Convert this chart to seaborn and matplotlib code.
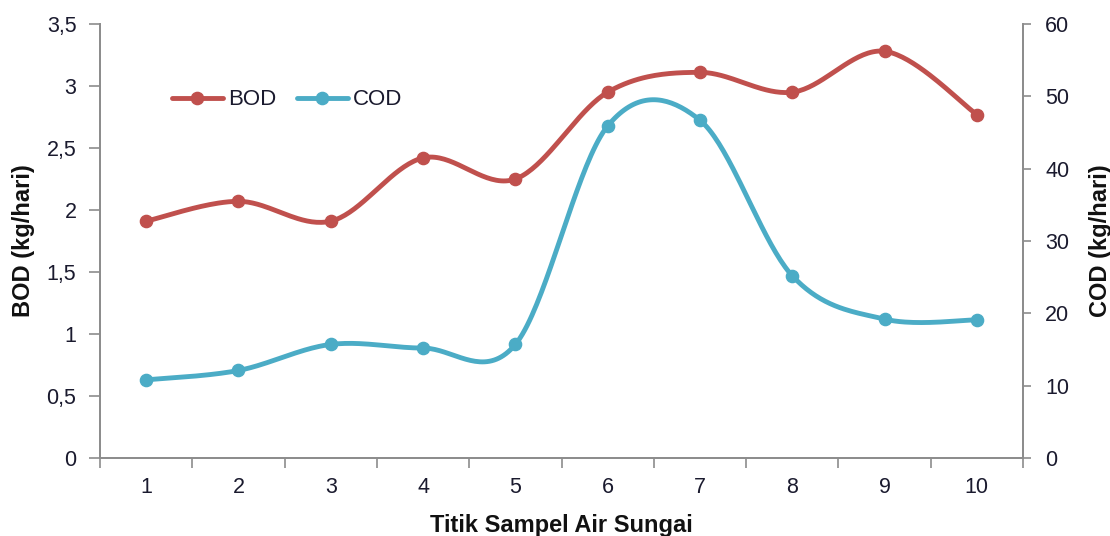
import numpy as np
import pandas as pd
import matplotlib
matplotlib.use("Agg")
import matplotlib.pyplot as plt
import seaborn as sns
from matplotlib.lines import Line2D
from matplotlib.ticker import FixedLocator

# ---- data ----
sampling_points = [1, 2, 3, 4, 5, 6, 7, 8, 9, 10]
bod_values = [1.91, 2.07, 1.91, 2.42, 2.25, 2.95, 3.11, 2.95, 3.28, 2.77]
cod_values = [10.8, 12.1, 15.7, 15.2, 15.7, 45.9, 46.7, 25.2, 19.2, 19.1]
bod_ticks = [0, 0.5, 1, 1.5, 2, 2.5, 3, 3.5]
bod_tick_labels = ["0", "0,5", "1", "1,5", "2", "2,5", "3", "3,5"]
cod_ticks = [0, 10, 20, 30, 40, 50, 60]
cod_tick_labels = ["0", "10", "20", "30", "40", "50", "60"]
x_tick_labels = ["1", "2", "3", "4", "5", "6", "7", "8", "9", "10"]

BOD_COLOR = "#C0504D"
COD_COLOR = "#4BACC6"
SPINE = "#8C8C8C"
TXT = "#1a1a2e"


def smooth(x, y, n=40):
    """Excel-like smoothed line (Catmull-Rom Bezier) through the data points."""
    x = np.asarray(x, float)
    y = np.asarray(y, float)
    px = np.concatenate([[x[0]], x, [x[-1]]])
    py = np.concatenate([[y[0]], y, [y[-1]]])
    t = np.linspace(0, 1, n)
    xs, ys = [], []
    for i in range(1, len(px) - 2):
        b0x, b0y = px[i], py[i]
        b3x, b3y = px[i + 1], py[i + 1]
        b1x = px[i] + (px[i + 1] - px[i - 1]) / 6
        b1y = py[i] + (py[i + 1] - py[i - 1]) / 6
        b2x = px[i + 1] - (px[i + 2] - px[i]) / 6
        b2y = py[i + 1] - (py[i + 2] - py[i]) / 6
        xs.append((1 - t) ** 3 * b0x + 3 * (1 - t) ** 2 * t * b1x + 3 * (1 - t) * t ** 2 * b2x + t ** 3 * b3x)
        ys.append((1 - t) ** 3 * b0y + 3 * (1 - t) ** 2 * t * b1y + 3 * (1 - t) * t ** 2 * b2y + t ** 3 * b3y)
    return np.concatenate(xs), np.concatenate(ys)


df = pd.DataFrame({"titik": sampling_points, "BOD": bod_values, "COD": cod_values})
bx, by = smooth(df["titik"], df["BOD"])
cx, cy = smooth(df["titik"], df["COD"])
bod_curve = pd.DataFrame({"x": bx, "y": by})
cod_curve = pd.DataFrame({"x": cx, "y": cy})

sns.set_theme(style="white")
plt.rcParams["font.family"] = ["Liberation Sans", "DejaVu Sans"]

fig = plt.figure(figsize=(11.1, 5.36), dpi=100)
ax = fig.add_axes([100 / 1110, 78 / 536, 923 / 1110, 434 / 536])
ax2 = ax.twinx()

LW = 3.5
MS = 8.8
sns.lineplot(data=bod_curve, x="x", y="y", ax=ax, color=BOD_COLOR, lw=LW, sort=False, estimator=None)
ax.plot(df["titik"], df["BOD"], "o", color=BOD_COLOR, ms=MS, zorder=5)
sns.lineplot(data=cod_curve, x="x", y="y", ax=ax2, color=COD_COLOR, lw=LW, sort=False, estimator=None)
ax2.plot(df["titik"], df["COD"], "o", color=COD_COLOR, ms=MS, zorder=5)

ax.set_xlim(0.5, 10.5)
ax.set_ylim(0, 3.5)
ax2.set_ylim(0, 60)

ax.set_yticks(bod_ticks)
ax.set_yticklabels(bod_tick_labels)
ax2.set_yticks(cod_ticks)
ax2.set_yticklabels(cod_tick_labels)

ax.set_xticks(sampling_points)
ax.set_xticklabels(x_tick_labels)
ax.xaxis.set_minor_locator(FixedLocator([i + 0.5 for i in range(0, 11)]))
TICK_FS = 15.5
ax.tick_params(axis="x", which="major", length=0, pad=14, labelsize=TICK_FS, colors=TXT)
ax.tick_params(axis="x", which="minor", length=7, width=1.2, color=SPINE, direction="out", bottom=True)
ax.tick_params(axis="y", length=8, width=1.2, color=SPINE, direction="out", left=True, labelsize=TICK_FS,
               labelcolor=TXT, pad=9)
ax2.tick_params(axis="y", length=6, width=1.2, color=SPINE, direction="out", right=True, labelsize=TICK_FS,
                labelcolor=TXT, pad=10)

for a in (ax, ax2):
    a.spines["top"].set_visible(False)
    for s in ("left", "right", "bottom"):
        a.spines[s].set_color(SPINE)
        a.spines[s].set_linewidth(1.3)
    a.set_xlabel("")
    a.set_ylabel("")

LAB_FS = 17
ax.set_xlabel("Titik Sampel Air Sungai", fontsize=LAB_FS, fontweight="bold", color="#111111", labelpad=11)
ax.set_ylabel("BOD (kg/hari)", fontsize=LAB_FS, fontweight="bold", color="#111111", labelpad=8)
ax2.set_ylabel("COD (kg/hari)", fontsize=LAB_FS, fontweight="bold", color="#111111", labelpad=14)

handles = [
    Line2D([0], [0], color=BOD_COLOR, lw=LW, marker="o", ms=MS),
    Line2D([0], [0], color=COD_COLOR, lw=LW, marker="o", ms=MS),
]
leg = ax2.legend(handles, ["BOD", "COD"], loc="center left", bbox_to_anchor=(0.068, 0.825),
                 ncol=2, frameon=False, fontsize=16, handlelength=2.3, handletextpad=0.25,
                 columnspacing=0.9, borderaxespad=0)
for t in leg.get_texts():
    t.set_color(TXT)

fig.savefig("out.png", dpi=100)
